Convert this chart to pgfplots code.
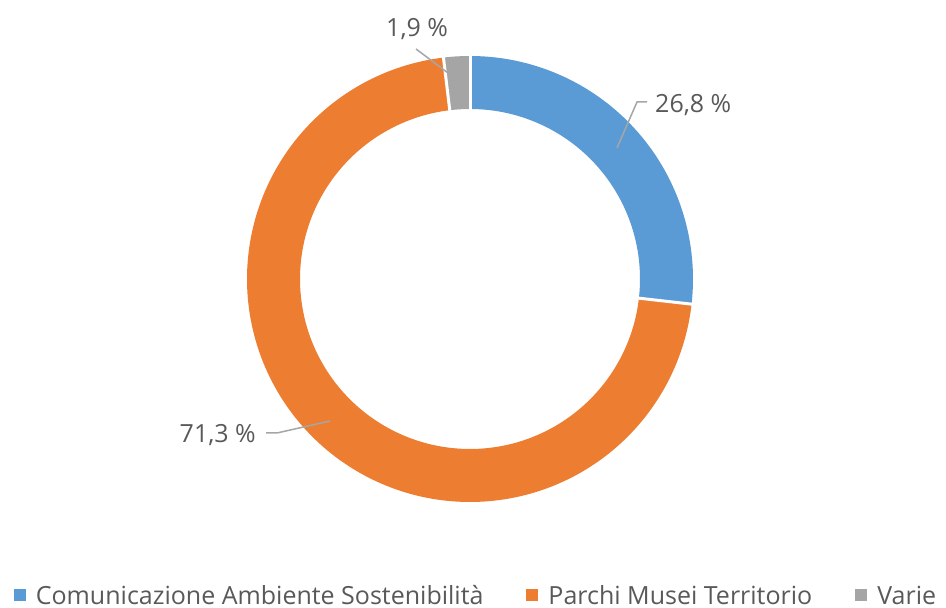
\documentclass[border=0pt]{standalone}
\usepackage{pgfplots}
\pgfplotsset{compat=1.18}
\usepackage{fontspec}
\setmainfont{Open Sans}
\definecolor{cblue}{HTML}{5B9BD5}
\definecolor{corange}{HTML}{ED7D31}
\definecolor{cgray}{HTML}{A5A5A5}
\definecolor{ctext}{HTML}{595959}
\definecolor{cline}{HTML}{A6A6A6}
% data (percent)
\pgfmathsetmacro{\va}{26.8}
\pgfmathsetmacro{\vb}{71.3}
\pgfmathsetmacro{\vc}{1.9}
\pgfmathsetmacro{\aA}{90}
\pgfmathsetmacro{\aB}{90-3.6*\va}
\pgfmathsetmacro{\aC}{\aB-3.6*\vb}
\pgfmathsetmacro{\aD}{\aC-3.6*\vc}
\def\ccx{470}\def\ccy{329}\def\rmid{196.5}
\begin{document}%
\begin{tikzpicture}
\begin{axis}[x=1pt,y=1pt,xmin=0,xmax=946,ymin=0,ymax=608,hide axis,clip=false,
 anchor=origin, at={(0pt,0pt)},
 legend columns=3,
 legend style={draw=none, fill=none, at={(axis cs:476,12)}, anchor=center, text=ctext,
   font=\fontsize{25}{29}\selectfont, inner sep=0pt,
   /tikz/every odd column/.append style={column sep=8pt},
   /tikz/every even column/.append style={column sep=41pt}},
 legend image code/.code={\fill[#1, draw=none] (0pt,-5pt) rectangle (12pt,7pt);},
]
\addplot[cblue, line width=53pt, domain=\aB:\aA, samples=120] ({\ccx+\rmid*cos(x)},{\ccy+\rmid*sin(x)});
\addlegendentry{Comunicazione Ambiente Sostenibilità}
\addplot[corange, line width=53pt, domain=\aC:\aB, samples=240] ({\ccx+\rmid*cos(x)},{\ccy+\rmid*sin(x)});
\addlegendentry{Parchi Musei Territorio}
\addplot[cgray, line width=53pt, domain=\aD:\aC, samples=20] ({\ccx+\rmid*cos(x)},{\ccy+\rmid*sin(x)});
\addlegendentry{Varie}
% white separators
\addplot[white, line width=3pt, forget plot, domain=165:230, samples=2] ({\ccx+x*cos(\aA)},{\ccy+x*sin(\aA)});
\addplot[white, line width=3pt, forget plot, domain=165:230, samples=2] ({\ccx+x*cos(\aB)},{\ccy+x*sin(\aB)});
\addplot[white, line width=3pt, forget plot, domain=165:230, samples=2] ({\ccx+x*cos(\aC)},{\ccy+x*sin(\aC)});
% leader lines
\addplot[cline, line width=1.5pt, forget plot] coordinates {(617,460) (637,506) (647,506)};
\addplot[cline, line width=1.5pt, forget plot] coordinates {(416,559) (448,535)};
\addplot[cline, line width=1.5pt, forget plot] coordinates {(266,175) (277,175) (330,187)};
% labels
\node[text=ctext, font=\fontsize{25}{29}\selectfont, anchor=base west, inner sep=0pt] at (axis cs:655,495) {26,8 \%};
\node[text=ctext, font=\fontsize{25}{29}\selectfont, anchor=base west, inner sep=0pt] at (axis cs:386,571) {1,9 \%};
\node[text=ctext, font=\fontsize{25}{29}\selectfont, anchor=base east, inner sep=0pt] at (axis cs:256,165) {71,3 \%};
\end{axis}
\pgfresetboundingbox
\useasboundingbox (0,0) rectangle (946pt,608pt);
\end{tikzpicture}%
\end{document}
